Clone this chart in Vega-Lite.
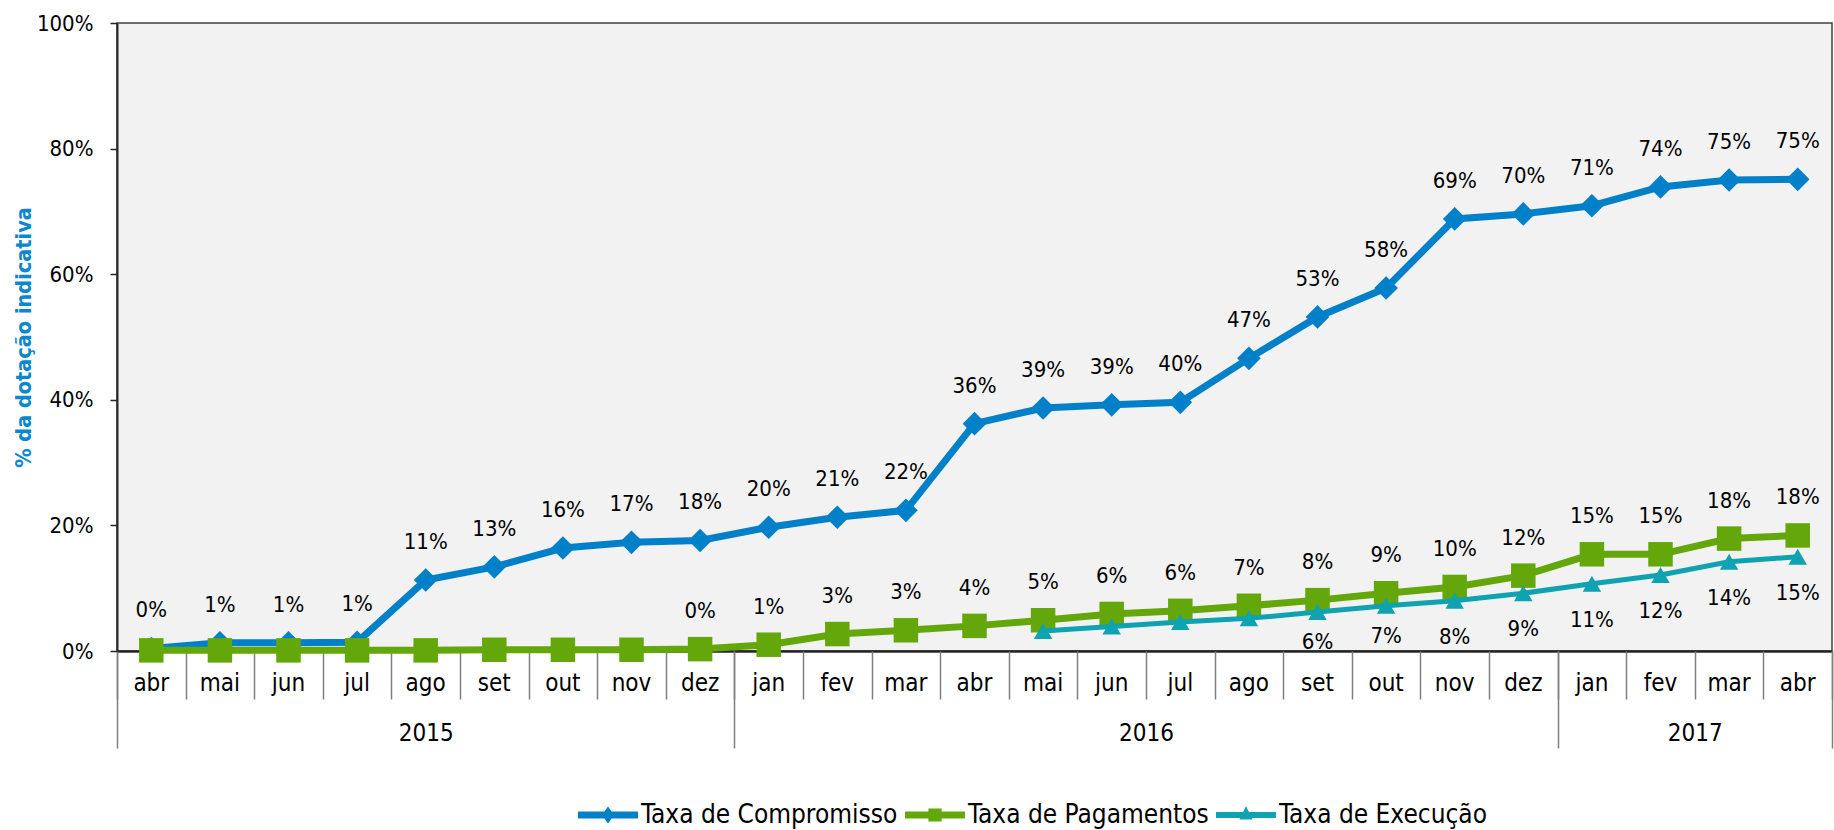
{
  "$schema": "https://vega.github.io/schema/vega-lite/v6.json",
  "width": 1715,
  "height": 628,
  "autosize": {"type": "none"},
  "padding": {"left": 117, "top": 23, "right": 2, "bottom": 179},
  "background": "#ffffff",
  "config": {
    "font": "DejaVu Sans Condensed",
    "view": {"fill": "#f2f2f2", "stroke": "#404040", "strokeWidth": 1.5},
    "axis": {"labelFont": "DejaVu Sans Condensed", "titleFont": "DejaVu Sans Condensed", "labelColor": "#000000"}
  },
  "resolve": {"scale": {"x": "independent"}},
  "layer": [
    {
      "data": {
        "values": [
          {"period": "2015-04", "series": "Taxa de Compromisso", "rate": 0.004},
          {"period": "2015-05", "series": "Taxa de Compromisso", "rate": 0.013},
          {"period": "2015-06", "series": "Taxa de Compromisso", "rate": 0.013},
          {"period": "2015-07", "series": "Taxa de Compromisso", "rate": 0.014},
          {"period": "2015-08", "series": "Taxa de Compromisso", "rate": 0.113},
          {"period": "2015-09", "series": "Taxa de Compromisso", "rate": 0.134},
          {"period": "2015-10", "series": "Taxa de Compromisso", "rate": 0.164},
          {"period": "2015-11", "series": "Taxa de Compromisso", "rate": 0.173},
          {"period": "2015-12", "series": "Taxa de Compromisso", "rate": 0.176},
          {"period": "2016-01", "series": "Taxa de Compromisso", "rate": 0.197},
          {"period": "2016-02", "series": "Taxa de Compromisso", "rate": 0.213},
          {"period": "2016-03", "series": "Taxa de Compromisso", "rate": 0.224},
          {"period": "2016-04", "series": "Taxa de Compromisso", "rate": 0.362},
          {"period": "2016-05", "series": "Taxa de Compromisso", "rate": 0.387},
          {"period": "2016-06", "series": "Taxa de Compromisso", "rate": 0.392},
          {"period": "2016-07", "series": "Taxa de Compromisso", "rate": 0.396},
          {"period": "2016-08", "series": "Taxa de Compromisso", "rate": 0.466},
          {"period": "2016-09", "series": "Taxa de Compromisso", "rate": 0.532},
          {"period": "2016-10", "series": "Taxa de Compromisso", "rate": 0.578},
          {"period": "2016-11", "series": "Taxa de Compromisso", "rate": 0.688},
          {"period": "2016-12", "series": "Taxa de Compromisso", "rate": 0.696},
          {"period": "2017-01", "series": "Taxa de Compromisso", "rate": 0.709},
          {"period": "2017-02", "series": "Taxa de Compromisso", "rate": 0.739},
          {"period": "2017-03", "series": "Taxa de Compromisso", "rate": 0.750},
          {"period": "2017-04", "series": "Taxa de Compromisso", "rate": 0.751},
          {"period": "2015-04", "series": "Taxa de Pagamentos", "rate": 0.001},
          {"period": "2015-05", "series": "Taxa de Pagamentos", "rate": 0.001},
          {"period": "2015-06", "series": "Taxa de Pagamentos", "rate": 0.001},
          {"period": "2015-07", "series": "Taxa de Pagamentos", "rate": 0.001},
          {"period": "2015-08", "series": "Taxa de Pagamentos", "rate": 0.001},
          {"period": "2015-09", "series": "Taxa de Pagamentos", "rate": 0.002},
          {"period": "2015-10", "series": "Taxa de Pagamentos", "rate": 0.002},
          {"period": "2015-11", "series": "Taxa de Pagamentos", "rate": 0.002},
          {"period": "2015-12", "series": "Taxa de Pagamentos", "rate": 0.003},
          {"period": "2016-01", "series": "Taxa de Pagamentos", "rate": 0.010},
          {"period": "2016-02", "series": "Taxa de Pagamentos", "rate": 0.027},
          {"period": "2016-03", "series": "Taxa de Pagamentos", "rate": 0.033},
          {"period": "2016-04", "series": "Taxa de Pagamentos", "rate": 0.040},
          {"period": "2016-05", "series": "Taxa de Pagamentos", "rate": 0.049},
          {"period": "2016-06", "series": "Taxa de Pagamentos", "rate": 0.059},
          {"period": "2016-07", "series": "Taxa de Pagamentos", "rate": 0.064},
          {"period": "2016-08", "series": "Taxa de Pagamentos", "rate": 0.072},
          {"period": "2016-09", "series": "Taxa de Pagamentos", "rate": 0.081},
          {"period": "2016-10", "series": "Taxa de Pagamentos", "rate": 0.092},
          {"period": "2016-11", "series": "Taxa de Pagamentos", "rate": 0.102},
          {"period": "2016-12", "series": "Taxa de Pagamentos", "rate": 0.120},
          {"period": "2017-01", "series": "Taxa de Pagamentos", "rate": 0.154},
          {"period": "2017-02", "series": "Taxa de Pagamentos", "rate": 0.154},
          {"period": "2017-03", "series": "Taxa de Pagamentos", "rate": 0.179},
          {"period": "2017-04", "series": "Taxa de Pagamentos", "rate": 0.184},
          {"period": "2016-05", "series": "Taxa de Execução", "rate": 0.032},
          {"period": "2016-06", "series": "Taxa de Execução", "rate": 0.039},
          {"period": "2016-07", "series": "Taxa de Execução", "rate": 0.046},
          {"period": "2016-08", "series": "Taxa de Execução", "rate": 0.052},
          {"period": "2016-09", "series": "Taxa de Execução", "rate": 0.062},
          {"period": "2016-10", "series": "Taxa de Execução", "rate": 0.072},
          {"period": "2016-11", "series": "Taxa de Execução", "rate": 0.080},
          {"period": "2016-12", "series": "Taxa de Execução", "rate": 0.092},
          {"period": "2017-01", "series": "Taxa de Execução", "rate": 0.107},
          {"period": "2017-02", "series": "Taxa de Execução", "rate": 0.121},
          {"period": "2017-03", "series": "Taxa de Execução", "rate": 0.142},
          {"period": "2017-04", "series": "Taxa de Execução", "rate": 0.150}
        ]
      },
      "encoding": {
        "x": {
          "field": "period",
          "type": "ordinal",
          "scale": {"type": "band", "paddingInner": 0, "paddingOuter": 0},
          "axis": {
            "title": null,
            "orient": "bottom",
            "labelExpr": "['jan','fev','mar','abr','mai','jun','jul','ago','set','out','nov','dez'][toNumber(slice(datum.value, 5)) - 1]",
            "labelAngle": 0,
            "labelFontSize": 24,
            "labelPadding": 20,
            "ticks": false,
            "domainColor": "#262626",
            "domainWidth": 2.5,
            "grid": false
          }
        },
        "y": {
          "field": "rate",
          "type": "quantitative",
          "scale": {"domain": [0, 1], "nice": false},
          "axis": {
            "values": [0, 0.2, 0.4, 0.6, 0.8, 1],
            "format": ".0%",
            "grid": false,
            "tickSize": 7,
            "tickColor": "#262626",
            "tickWidth": 1.5,
            "domainColor": "#262626",
            "domainWidth": 2,
            "labelFontSize": 22,
            "labelPadding": 17,
            "title": "% da dotação indicativa",
            "titleColor": "#0B87CE",
            "titleFontSize": 21.5,
            "titleFontWeight": "bold",
            "titlePadding": 1
          }
        }
      },
      "layer": [
        {
          "transform": [{"filter": "datum.series == 'Taxa de Compromisso'"}],
          "mark": {"type": "line", "strokeWidth": 7, "color": "#0080C8"},
          "encoding": {}
        },
        {
          "transform": [{"filter": "datum.series == 'Taxa de Compromisso'"}],
          "mark": {"type": "point", "shape": "diamond", "filled": true, "size": 560, "opacity": 1, "color": "#0080C8"},
          "encoding": {}
        },
        {
          "transform": [{"filter": "datum.series == 'Taxa de Pagamentos'"}],
          "mark": {"type": "line", "strokeWidth": 7, "color": "#63A70A"},
          "encoding": {}
        },
        {
          "transform": [{"filter": "datum.series == 'Taxa de Pagamentos'"}],
          "mark": {"type": "point", "shape": "square", "filled": true, "size": 600, "opacity": 1, "color": "#63A70A"},
          "encoding": {}
        },
        {
          "transform": [{"filter": "datum.series == 'Taxa de Execução'"}],
          "mark": {"type": "line", "strokeWidth": 5, "color": "#0FA2B0"},
          "encoding": {}
        },
        {
          "transform": [{"filter": "datum.series == 'Taxa de Execução'"}],
          "mark": {"type": "point", "shape": "triangle-up", "filled": true, "size": 340, "opacity": 1, "color": "#0FA2B0"},
          "encoding": {}
        },
        {
          "transform": [{"filter": "datum.series == 'Taxa de Compromisso'"}],
          "mark": {"type": "text", "dy": -38, "fontSize": 22, "baseline": "middle", "color": "#000000"},
          "encoding": {"text": {"field": "rate", "type": "quantitative", "format": ".0%"}}
        },
        {
          "transform": [{"filter": "datum.series == 'Taxa de Pagamentos' && datum.period >= '2015-12'"}],
          "mark": {"type": "text", "dy": -38, "fontSize": 22, "baseline": "middle", "color": "#000000"},
          "encoding": {"text": {"field": "rate", "type": "quantitative", "format": ".0%"}}
        },
        {
          "transform": [{"filter": "datum.series == 'Taxa de Execução' && datum.period >= '2016-09' && datum.rate >= 0.075"}],
          "mark": {"type": "text", "dy": 36, "fontSize": 22, "baseline": "middle", "color": "#000000"},
          "encoding": {"text": {"field": "rate", "type": "quantitative", "format": ".0%"}}
        },
        {
          "transform": [{"filter": "datum.series == 'Taxa de Execução' && datum.period >= '2016-09' && datum.rate < 0.075"}],
          "mark": {"type": "text", "dy": 30, "fontSize": 22, "baseline": "middle", "color": "#000000"},
          "encoding": {"text": {"field": "rate", "type": "quantitative", "format": ".0%"}}
        },
        {
          "transform": [{"filter": "datum.rate < 0"}],
          "mark": {"type": "point", "filled": true, "opacity": 1},
          "encoding": {
            "color": {
              "field": "series",
              "type": "nominal",
              "scale": {
                "domain": ["Taxa de Compromisso", "Taxa de Pagamentos", "Taxa de Execução"],
                "range": ["#0080C8", "#63A70A", "#0FA2B0"]
              },
              "legend": {
                "title": null,
                "orient": "none",
                "direction": "horizontal",
                "legendX": 461,
                "legendY": 762,
                "padding": 0,
                "symbolSize": 3600,
                "symbolStrokeWidth": 0,
                "labelFontSize": 26,
                "labelColor": "#000000",
                "labelOffset": 3,
                "columnPadding": 7,
                "labelLimit": 400
              }
            },
            "shape": {
              "field": "series",
              "type": "nominal",
              "scale": {
                "domain": ["Taxa de Compromisso", "Taxa de Pagamentos", "Taxa de Execução"],
                "range": [
                  "M-1,-0.117H1V0.117H-1Z M0,-0.28L0.2,0L0,0.28L-0.2,0Z",
                  "M-1,-0.117H1V0.117H-1Z M-0.22,-0.22H0.22V0.22H-0.22Z",
                  "M-1,-0.1H1V0.1H-1Z M0,-0.3L0.22,0.15L-0.22,0.15Z"
                ]
              },
              "legend": {
                "title": null,
                "orient": "none",
                "direction": "horizontal",
                "legendX": 461,
                "legendY": 762,
                "padding": 0,
                "symbolSize": 3600,
                "symbolStrokeWidth": 0,
                "labelFontSize": 26,
                "labelColor": "#000000",
                "labelOffset": 3,
                "columnPadding": 7,
                "labelLimit": 400
              }
            }
          }
        }
      ]
    },
    {
      "data": {"values": [{"year": "2015", "start": 0}, {"year": "2016", "start": 9}, {"year": "2017", "start": 21}]},
      "mark": {"type": "text", "opacity": 0},
      "encoding": {
        "x": {
          "field": "start",
          "type": "quantitative",
          "scale": {"domain": [0, 25], "nice": false, "zero": false},
          "axis": {
            "title": null,
            "orient": "bottom",
            "values": [0, 1, 2, 3, 4, 5, 6, 7, 8, 9, 10, 11, 12, 13, 14, 15, 16, 17, 18, 19, 20, 21, 22, 23, 24, 25],
            "labels": false,
            "tickSize": 48,
            "tickColor": "#7f7f7f",
            "tickWidth": 1.5,
            "domain": false,
            "grid": false
          }
        }
      }
    },
    {
      "data": {"values": [{"year": "2015", "start": 0}, {"year": "2016", "start": 9}, {"year": "2017", "start": 21}]},
      "mark": {"type": "text", "opacity": 0},
      "encoding": {
        "x": {
          "field": "start",
          "type": "quantitative",
          "scale": {"domain": [0, 25], "nice": false, "zero": false},
          "axis": {
            "title": null,
            "orient": "bottom",
            "values": [0, 9, 21, 25],
            "labels": false,
            "tickSize": 97,
            "tickColor": "#7f7f7f",
            "tickWidth": 1.5,
            "domain": false,
            "grid": false
          }
        }
      }
    },
    {
      "data": {"values": [{"year": "2015", "start": 0}, {"year": "2016", "start": 9}, {"year": "2017", "start": 21}]},
      "mark": {"type": "text", "opacity": 0},
      "encoding": {
        "x": {
          "field": "start",
          "type": "quantitative",
          "scale": {"domain": [0, 25], "nice": false, "zero": false},
          "axis": {
            "title": null,
            "orient": "bottom",
            "values": [4.5, 15, 23],
            "labelExpr": "datum.value == 4.5 ? '2015' : datum.value == 15 ? '2016' : '2017'",
            "labelFontSize": 24,
            "labelPadding": 70,
            "labelOverlap": false,
            "labelFlush": false,
            "ticks": false,
            "domain": false,
            "grid": false
          }
        }
      }
    }
  ]
}
